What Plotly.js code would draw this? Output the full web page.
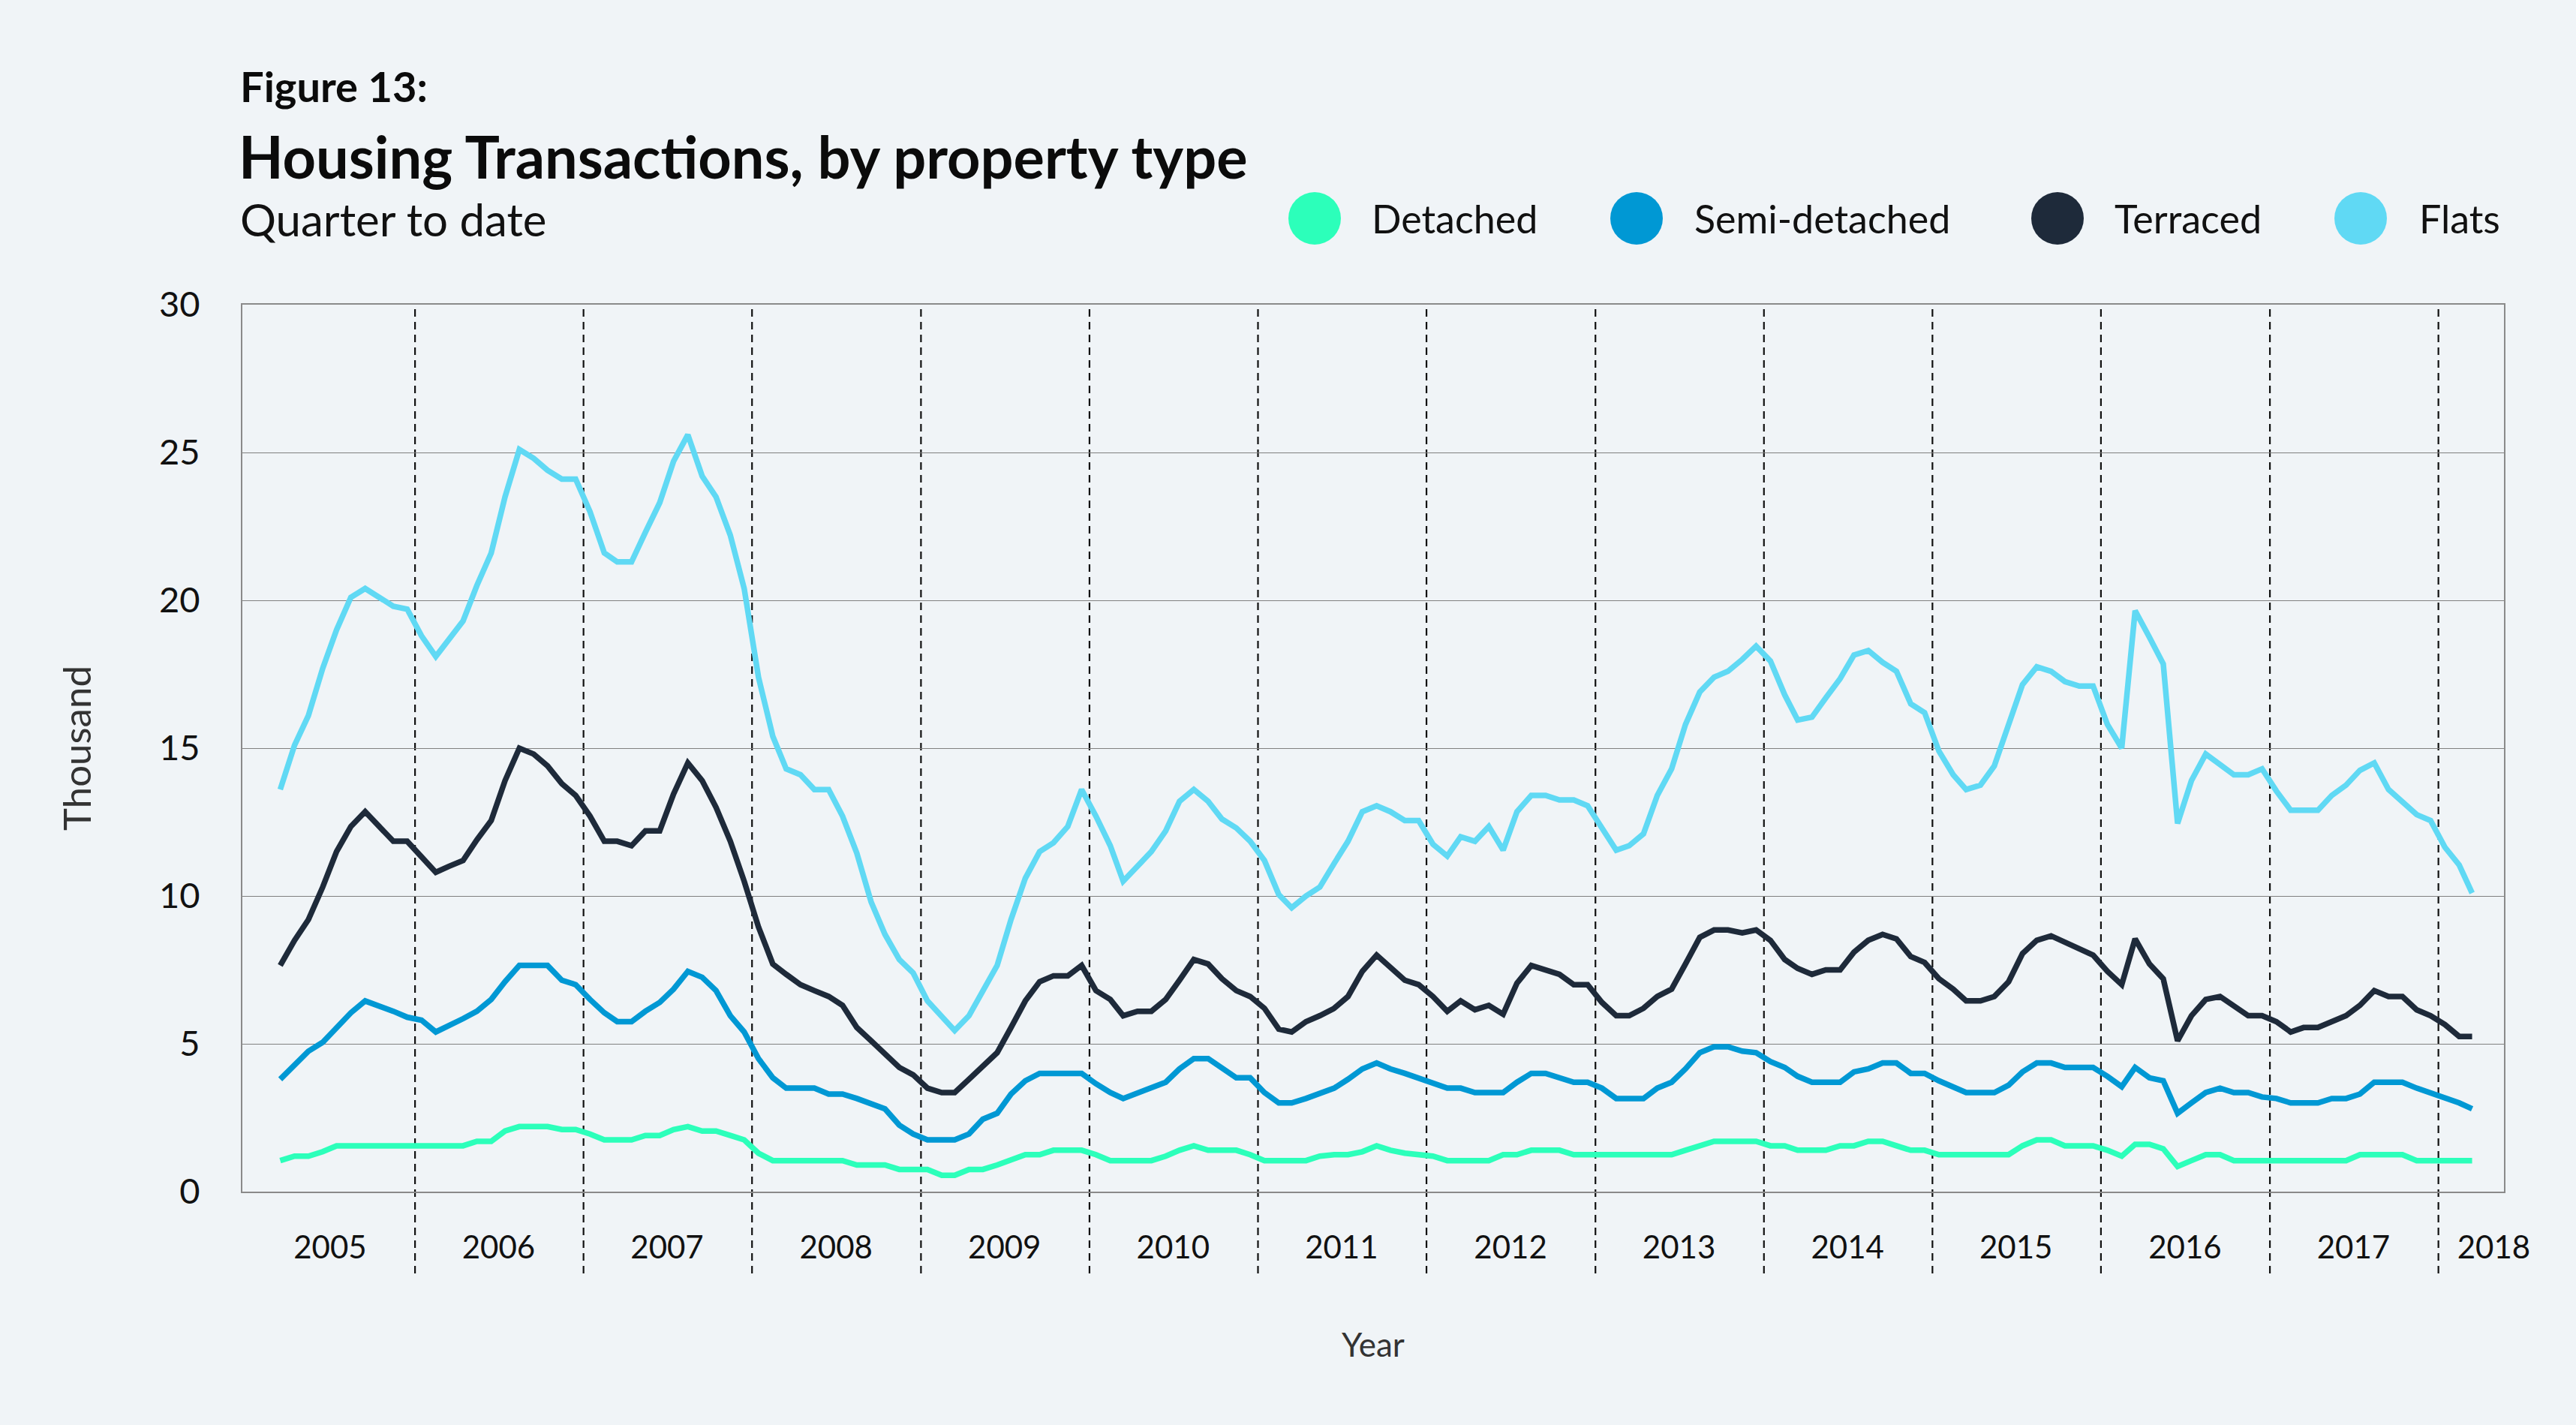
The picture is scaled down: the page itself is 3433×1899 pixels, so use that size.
<!DOCTYPE html>
<html>
<head>
<meta charset="utf-8">
<script src="https://cdn.plot.ly/plotly-3.0.1.min.js"></script>
<style>
html,body{margin:0;padding:0;background:#f0f4f7;}
#chart{width:3433px;height:1899px;}
</style>
</head>
<body>
<div id="chart"></div>
<script>
// ---- Data (thousand transactions, monthly, quarter to date) ----
const startYear = 2005, startMonth = 3, monthCount = 157; // Mar 2005 .. Mar 2018

const seriesNames = ["Detached", "Semi-detached", "Terraced", "Flats"];
const seriesColors = ["#2cffba", "#0098d4", "#1e2a3a", "#60d9f4"];

const detached = [
  1.05,1.2,1.2,1.35,1.55,1.55,1.55,1.55,1.55,1.55,
  1.55,1.55,1.55,1.55,1.7,1.7,2.05,2.2,2.2,2.2,2.1,2.1,
  1.95,1.75,1.75,1.75,1.9,1.9,2.1,2.2,2.05,2.05,1.9,1.75,
  1.3,1.05,1.05,1.05,1.05,1.05,1.05,0.9,0.9,0.9,0.75,0.75,
  0.75,0.55,0.55,0.75,0.75,0.9,1.05,1.25,1.25,1.4,1.4,1.4,
  1.25,1.05,1.05,1.05,1.05,1.2,1.4,1.55,1.4,1.4,1.4,1.25,
  1.05,1.05,1.05,1.05,1.2,1.25,1.25,1.35,1.55,1.4,1.3,1.25,
  1.2,1.05,1.05,1.05,1.05,1.25,1.25,1.4,1.4,1.4,1.25,1.25,
  1.25,1.25,1.25,1.25,1.25,1.25,1.4,1.55,1.7,1.7,1.7,1.7,
  1.55,1.55,1.4,1.4,1.4,1.55,1.55,1.7,1.7,1.55,1.4,1.4,
  1.25,1.25,1.25,1.25,1.25,1.25,1.55,1.75,1.75,1.55,1.55,1.55,
  1.4,1.2,1.6,1.6,1.45,0.85,1.05,1.25,1.25,1.05,1.05,1.05,
  1.05,1.05,1.05,1.05,1.05,1.05,1.25,1.25,1.25,1.25,1.05,1.05,
  1.05,1.05,1.05
];

const semiDetached = [
  3.8,4.3,4.75,5.05,5.55,6.05,6.45,6.3,6.1,5.9,
  5.8,5.4,5.6,5.85,6.1,6.5,7.1,7.65,7.65,7.65,7.15,7.0,
  6.5,6.05,5.75,5.75,6.1,6.4,6.85,7.45,7.25,6.8,5.95,5.4,
  4.5,3.85,3.5,3.5,3.5,3.3,3.3,3.15,2.95,2.8,2.25,1.95,
  1.75,1.75,1.75,1.95,2.45,2.65,3.3,3.75,4.0,4.0,4.0,4.0,
  3.65,3.35,3.15,3.35,3.5,3.7,4.15,4.5,4.5,4.2,3.85,3.85,
  3.35,3.0,3.0,3.15,3.3,3.5,3.8,4.15,4.35,4.15,4.0,3.85,
  3.7,3.5,3.5,3.35,3.35,3.35,3.7,4.0,4.0,3.85,3.7,3.7,
  3.5,3.15,3.15,3.15,3.5,3.7,4.15,4.7,4.9,4.9,4.75,4.7,
  4.4,4.2,3.9,3.7,3.7,3.7,4.05,4.15,4.35,4.35,4.0,4.0,
  3.75,3.55,3.35,3.35,3.35,3.6,4.05,4.35,4.35,4.2,4.2,4.2,
  3.9,3.55,4.2,3.85,3.75,2.65,3.0,3.35,3.5,3.35,3.35,3.2,
  3.15,3.0,3.0,3.0,3.15,3.15,3.3,3.7,3.7,3.7,3.5,3.35,
  3.2,3.0,2.8
];

const terraced = [
  7.65,8.5,9.2,10.3,11.5,12.35,12.85,12.35,11.85,11.85,
  11.3,10.8,11.0,11.2,11.9,12.55,13.9,15.0,14.8,14.4,13.8,13.4,
  12.7,11.85,11.85,11.7,12.2,12.2,13.45,14.5,13.9,13.0,11.85,10.5,
  8.95,7.7,7.35,7.0,6.8,6.6,6.3,5.55,5.1,4.65,4.2,3.95,
  3.5,3.35,3.35,3.8,4.25,4.7,5.55,6.45,7.1,7.3,7.3,7.65,
  6.8,6.5,5.95,6.1,6.1,6.5,7.15,7.85,7.7,7.2,6.8,6.6,
  6.2,5.5,5.4,5.75,5.95,6.2,6.6,7.45,8.0,7.6,7.15,7.0,
  6.6,6.1,6.45,6.15,6.3,6.0,7.05,7.65,7.5,7.35,7.0,7.0,
  6.4,5.95,5.95,6.2,6.6,6.85,7.7,8.6,8.85,8.85,8.75,8.85,
  8.5,7.85,7.55,7.35,7.5,7.5,8.1,8.5,8.7,8.55,7.95,7.75,
  7.2,6.85,6.45,6.45,6.6,7.1,8.05,8.5,8.65,8.45,8.2,8.0,
  7.45,7.0,8.55,7.7,7.2,5.1,5.95,6.5,6.6,6.3,5.95,5.95,
  5.75,5.4,5.55,5.55,5.75,5.95,6.3,6.8,6.6,6.6,6.15,5.95,
  5.65,5.25,5.25
];

const flats = [
  13.6,15.1,16.1,17.7,19.0,20.1,20.4,20.1,19.8,19.7,
  18.8,18.1,18.7,19.3,20.5,21.6,23.5,25.1,24.8,24.4,24.1,24.1,
  23.0,21.6,21.3,21.3,22.3,23.3,24.7,25.6,24.2,23.5,22.2,20.4,
  17.4,15.4,14.3,14.1,13.6,13.6,12.7,11.45,9.8,8.7,7.85,7.4,
  6.45,5.95,5.45,5.95,6.8,7.65,9.2,10.6,11.5,11.8,12.35,13.6,
  12.7,11.7,10.5,11.0,11.5,12.2,13.2,13.6,13.2,12.6,12.3,11.85,
  11.2,10.05,9.6,10.0,10.3,11.1,11.85,12.85,13.05,12.85,12.55,12.55,
  11.75,11.35,12.0,11.85,12.35,11.55,12.85,13.4,13.4,13.25,13.25,13.05,
  12.3,11.55,11.7,12.1,13.4,14.3,15.8,16.9,17.4,17.6,18.0,18.45,
  17.95,16.8,15.95,16.05,16.7,17.35,18.15,18.3,17.9,17.6,16.5,16.2,
  14.9,14.1,13.6,13.75,14.4,15.75,17.15,17.75,17.6,17.25,17.1,17.1,
  15.8,15.0,19.65,18.75,17.85,12.45,13.9,14.8,14.45,14.1,14.1,14.3,
  13.55,12.9,12.9,12.9,13.4,13.75,14.25,14.5,13.6,13.2,12.75,12.55,
  11.65,11.05,10.1
];

const yearLabels = ["2005","2006","2007","2008","2009","2010","2011","2012","2013","2014","2015","2016","2017","2018"];
const yearLabelDates = ["2005-07-01","2006-07-01","2007-07-01","2008-07-01","2009-07-01","2010-07-01","2011-07-01","2012-07-01","2013-07-01","2014-07-01","2015-07-01","2016-07-01","2017-07-01","2018-05-01"];
const yearBoundaries = ["2006-01-01","2007-01-01","2008-01-01","2009-01-01","2010-01-01","2011-01-01","2012-01-01","2013-01-01","2014-01-01","2015-01-01","2016-01-01","2017-01-01","2018-01-01"];
const yTicks = [0,5,10,15,20,25,30];

// month dates (mid-month)
const months = [];
for (let i = 0; i < monthCount; i++) {
  const m0 = startMonth - 1 + i;
  const y = startYear + Math.floor(m0 / 12);
  const m = (m0 % 12) + 1;
  months.push(y + "-" + String(m).padStart(2, "0") + "-15");
}

// ---- Layout geometry (pixels) ----
const W = 3433, H = 1899;
const L = 323, R = 3337, T = 406, B = 1588;
const px = v => (v - L) / (R - L);
const py = v => (B - v) / (B - T);

const FONT = "Lato, 'Noto Sans', sans-serif";
const values = [detached, semiDetached, terraced, flats];

const traces = values.map((vals, i) => ({
  type: "scatter",
  mode: "lines",
  name: seriesNames[i],
  x: months,
  y: vals,
  line: {color: seriesColors[i], width: 7.5, shape: "linear"},
  showlegend: false,
  hoverinfo: "x+y+name"
}));

const shapes = yearBoundaries.map(d => ({
  type: "line", xref: "x", yref: "paper",
  x0: d, x1: d, y0: py(1697), y1: 1,
  line: {color: "#111111", width: 2.2, dash: "10px,7px"},
  layer: "below"
}));

// legend
const legendCx = [1752, 2181, 2742, 3146];
const legendTx = [1826, 2256, 2816, 3222];
const legendCy = 291;
const annotations = [];
seriesNames.forEach((n, i) => {
  shapes.push({
    type: "circle", xref: "paper", yref: "paper",
    xsizemode: "pixel", ysizemode: "pixel",
    xanchor: px(legendCx[i]), yanchor: py(legendCy),
    x0: -35, x1: 35, y0: -35, y1: 35,
    fillcolor: seriesColors[i], line: {width: 0}
  });
  annotations.push({
    xref: "paper", yref: "paper", x: px(legendTx[i]), y: py(legendCy),
    xanchor: "left", yanchor: "middle", showarrow: false,
    text: n, font: {family: FONT, size: 52, color: "#111111"}
  });
});

annotations.push({
  xref: "paper", yref: "paper", x: px(318), y: py(114),
  xanchor: "left", yanchor: "middle", showarrow: false,
  text: "Figure 13:", font: {family: FONT, size: 56, weight: 700, color: "#0b0b0b"}
});
annotations.push({
  xref: "paper", yref: "paper", x: px(318), y: py(292),
  xanchor: "left", yanchor: "middle", showarrow: false,
  text: "Quarter to date", font: {family: FONT, size: 60, color: "#111111"}
});

const layout = {
  width: W, height: H,
  margin: {l: L, r: W - R, t: T, b: H - B, pad: 0},
  paper_bgcolor: "#f0f4f7",
  plot_bgcolor: "#f0f4f7",
  title: {
    text: "Housing Transactions, by property type",
    font: {family: FONT, size: 77.5, weight: 700, color: "#0b0b0b"},
    xref: "container", yref: "container",
    x: 318 / W, xanchor: "left",
    y: 1 - 211 / H, yanchor: "middle"
  },
  xaxis: {
    type: "date",
    range: ["2004-12-23", "2018-05-23"],
    tickvals: yearLabelDates,
    ticktext: yearLabels,
    tickfont: {family: FONT, size: 42, color: "#111111"},
    ticks: "",
    ticklabelstandoff: 37,
    showgrid: false,
    zeroline: false,
    showline: true, mirror: true,
    linecolor: "#8a8a8a", linewidth: 2,
    title: {text: "Year", font: {family: FONT, size: 44, color: "#333333"}, standoff: 92},
    automargin: false
  },
  yaxis: {
    range: [0, 30],
    tickvals: yTicks,
    tickfont: {family: FONT, size: 47, color: "#111111"},
    ticks: "",
    ticklabelstandoff: 45,
    showgrid: true, gridcolor: "#808080", gridwidth: 1.2,
    zeroline: false,
    showline: true, mirror: true,
    linecolor: "#8a8a8a", linewidth: 2,
    title: {text: "Thousand", font: {family: FONT, size: 51, color: "#333333"}, standoff: 74},
    automargin: false
  },
  shapes: shapes,
  annotations: annotations,
  showlegend: false,
  hovermode: "closest"
};

Plotly.newPlot("chart", traces, layout, {displayModeBar: false, responsive: false});
</script>
</body>
</html>
